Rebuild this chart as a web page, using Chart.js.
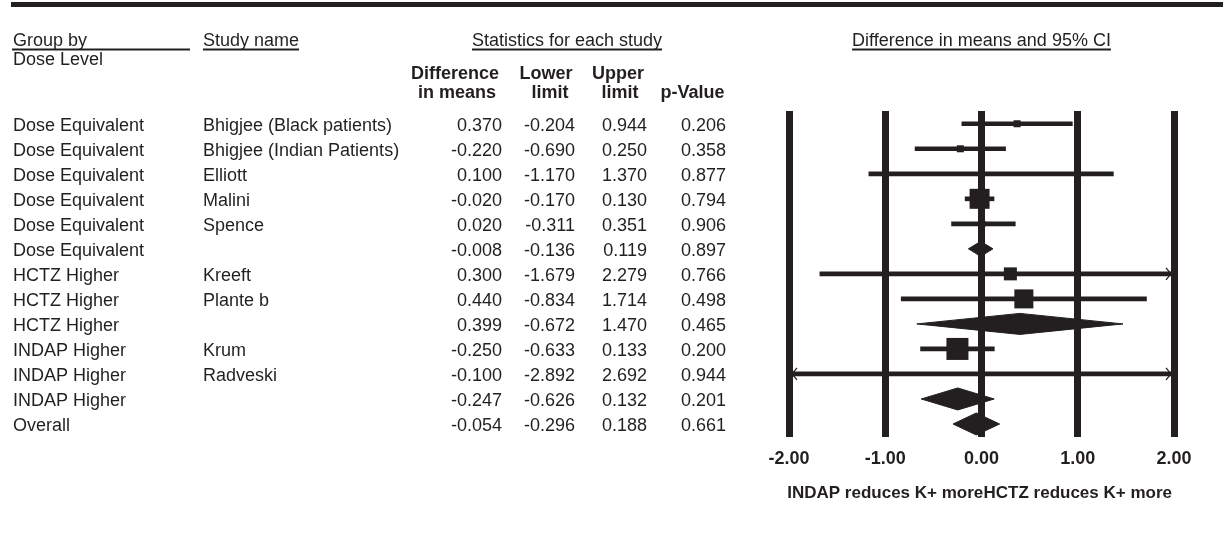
<!DOCTYPE html>
<html>
<head>
<meta charset="utf-8">
<script src="https://cdn.jsdelivr.net/npm/chart.js@4.4.1/dist/chart.umd.min.js"></script>
<style>
  html, body { margin: 0; padding: 0; background: #ffffff; }
  #wrap { width: 1223px; height: 533px; position: relative; }
</style>
</head>
<body>
<div id="wrap"><canvas id="c" width="1223" height="533"></canvas></div>
<script>
// ---------------- DATA ----------------
const groupLabels = [
  'Dose Equivalent', 'Dose Equivalent', 'Dose Equivalent', 'Dose Equivalent', 'Dose Equivalent', 'Dose Equivalent',
  'HCTZ Higher', 'HCTZ Higher', 'HCTZ Higher',
  'INDAP Higher', 'INDAP Higher', 'INDAP Higher',
  'Overall'
];
const studyNames = [
  'Bhigjee (Black patients)', 'Bhigjee (Indian Patients)', 'Elliott', 'Malini', 'Spence', '',
  'Kreeft', 'Plante b', '',
  'Krum', 'Radveski', '',
  ''
];
const diffMeans   = [0.370, -0.220, 0.100, -0.020, 0.020, -0.008, 0.300, 0.440, 0.399, -0.250, -0.100, -0.247, -0.054];
const lowerLimits = [-0.204, -0.690, -1.170, -0.170, -0.311, -0.136, -1.679, -0.834, -0.672, -0.633, -2.892, -0.626, -0.296];
const upperLimits = [0.944, 0.250, 1.370, 0.130, 0.351, 0.119, 2.279, 1.714, 1.470, 0.133, 2.692, 0.132, 0.188];
const pValues     = [0.206, 0.358, 0.877, 0.794, 0.906, 0.897, 0.766, 0.498, 0.465, 0.200, 0.944, 0.201, 0.661];
// relative study weights; null = summary row
const relWeights  = [4.8, 4.8, 0.9, 39.0, 2.4, null, 16.5, 35.3, null, 47.3, 0.9, null, null];

const tickValues = [-2, -1, 0, 1, 2];
const tickLabels = ['-2.00', '-1.00', '0.00', '1.00', '2.00'];
const favoursLeft  = 'INDAP reduces K+ more';
const favoursRight = 'HCTZ reduces K+ more';

// ---------------- STYLE ----------------
const INK = '#231f20';
const FONT = '"Liberation Sans", Arial, Helvetica, sans-serif';
const ROW_PX = 25;
const diamondHalfPx = { 5: 7.5, 8: 10.5, 11: 11, 12: 11 };
const boxSide = w => 3.2 * Math.sqrt(w);

const rows = diffMeans.map((_, i) => i);
const studyRows = rows.filter(i => studyNames[i] !== '');
const summaryRows = rows.filter(i => studyNames[i] === '');

// ---------------- DATASETS ----------------
const ciDataset = {
  type: 'bar',
  indexAxis: 'y',
  data: studyRows.map(i => ({ y: i, x: [lowerLimits[i], upperLimits[i]] })),
  backgroundColor: INK,
  borderWidth: 0,
  barThickness: 4,
  clip: 0,
  order: 3
};

const boxDataset = {
  type: 'scatter',
  data: studyRows.map(i => ({ x: diffMeans[i], y: i, w: relWeights[i] })),
  pointStyle: 'rect',
  pointRadius: ctx => (ctx.raw ? boxSide(ctx.raw.w) / Math.SQRT2 : 0),
  pointHoverRadius: ctx => (ctx.raw ? boxSide(ctx.raw.w) / Math.SQRT2 : 0),
  pointBackgroundColor: INK,
  pointBorderWidth: 0,
  clip: 0,
  order: 2
};

const diamondDatasets = summaryRows.map(i => {
  const h = diamondHalfPx[i] / ROW_PX;
  return {
    type: 'scatter',
    showLine: true,
    fill: 'shape',
    data: [
      { x: lowerLimits[i], y: i },
      { x: diffMeans[i], y: i - h },
      { x: upperLimits[i], y: i },
      { x: diffMeans[i], y: i + h },
      { x: lowerLimits[i], y: i }
    ],
    backgroundColor: INK,
    borderColor: INK,
    borderWidth: 1,
    pointRadius: 0,
    pointHoverRadius: 0,
    tension: 0,
    clip: 0,
    order: 1
  };
});

// ---------------- PLUGINS ----------------
const arrowPlugin = {
  id: 'clipArrows',
  afterDatasetsDraw(chart) {
    const { ctx } = chart;
    const xs = chart.scales.x, ys = chart.scales.y;
    ctx.save();
    ctx.strokeStyle = INK;
    ctx.lineWidth = 1.3;
    const arrow = (tip, py, dir) => {
      ctx.beginPath();
      ctx.moveTo(tip - dir * 5, py - 6);
      ctx.lineTo(tip, py);
      ctx.lineTo(tip - dir * 5, py + 6);
      ctx.stroke();
    };
    studyRows.forEach(i => {
      const py = ys.getPixelForValue(i);
      if (upperLimits[i] > xs.max) arrow(xs.getPixelForValue(xs.max) - 3, py, 1);
      if (lowerLimits[i] < xs.min) arrow(xs.getPixelForValue(xs.min) + 3, py, -1);
    });
    ctx.restore();
  }
};

const tablePlugin = {
  id: 'forestTable',
  afterDraw(chart) {
    const { ctx } = chart;
    const xs = chart.scales.x, ys = chart.scales.y;
    ctx.save();
    ctx.fillStyle = INK;
    ctx.textBaseline = 'alphabetic';

    // top rule
    ctx.fillRect(11, 2, chart.width - 11, 5);

    const reg = size => `${size}px ${FONT}`;
    const bold = size => `bold ${size}px ${FONT}`;
    const txt = (s, x, y, align) => { ctx.textAlign = align; ctx.fillText(s, x, y); };
    const underline = (x0, x1, y) => ctx.fillRect(x0, y, x1 - x0, 2);

    // section headers
    ctx.font = reg(18);
    txt('Group by', 13, 46, 'left');
    underline(12, 190, 48.5);
    txt('Dose Level', 13, 65, 'left');
    txt('Study name', 203, 46, 'left');
    underline(203, 203 + ctx.measureText('Study name').width, 48.5);
    const statsTitle = 'Statistics for each study';
    const sw = ctx.measureText(statsTitle).width;
    txt(statsTitle, 567, 46, 'center');
    underline(567 - sw / 2, 567 + sw / 2, 48.5);
    const ciTitle = 'Difference in means and 95% CI';
    const cx0 = xs.getPixelForValue(0);
    const cw = ctx.measureText(ciTitle).width;
    txt(ciTitle, cx0, 46, 'center');
    underline(cx0 - cw / 2, cx0 + cw / 2, 48.5);

    // column headers
    ctx.font = bold(18);
    txt('Difference', 455, 79, 'center');
    txt('in means', 457, 98, 'center');
    txt('Lower', 546, 79, 'center');
    txt('limit', 550, 98, 'center');
    txt('Upper', 618, 79, 'center');
    txt('limit', 620, 98, 'center');
    txt('p-Value', 692.5, 98, 'center');

    // rows
    ctx.font = reg(18);
    rows.forEach(i => {
      const by = ys.getPixelForValue(i) + 7;
      txt(groupLabels[i], 13, by, 'left');
      if (studyNames[i]) txt(studyNames[i], 203, by, 'left');
      txt(diffMeans[i].toFixed(3), 502, by, 'right');
      txt(lowerLimits[i].toFixed(3), 575, by, 'right');
      txt(upperLimits[i].toFixed(3), 647, by, 'right');
      txt(pValues[i].toFixed(3), 726, by, 'right');
    });

    // favours labels
    ctx.font = bold(17);
    txt(favoursLeft, xs.getPixelForValue(-1), 498, 'center');
    txt(favoursRight, xs.getPixelForValue(1), 498, 'center');

    ctx.restore();
  }
};

// ---------------- CHART ----------------
new Chart(document.getElementById('c'), {
  type: 'bar',
  data: { datasets: [ciDataset, boxDataset, ...diamondDatasets] },
  options: {
    responsive: false,
    animation: false,
    devicePixelRatio: 1,
    events: [],
    layout: { padding: { left: 789, right: 49, top: 111, bottom: 0 } },
    plugins: { legend: { display: false }, tooltip: { enabled: false } },
    scales: {
      x: {
        type: 'linear',
        min: -2,
        max: 2,
        offset: false,
        afterBuildTicks: ax => { ax.ticks = tickValues.map(v => ({ value: v })); },
        afterFit: ax => { ax.height = 96; },
        ticks: {
          callback: v => tickLabels[tickValues.indexOf(v)],
          font: { family: FONT, size: 18, weight: 'bold' },
          color: INK,
          padding: 11,
          maxRotation: 0,
          autoSkip: false
        },
        grid: { color: INK, lineWidth: 7, drawTicks: false, offset: false },
        border: { display: false }
      },
      y: {
        type: 'linear',
        min: -0.51,
        max: 12.52,
        reverse: true,
        offset: false,
        grid: { offset: false },
        display: false
      }
    }
  },
  plugins: [arrowPlugin, tablePlugin]
});
</script>
</body>
</html>
